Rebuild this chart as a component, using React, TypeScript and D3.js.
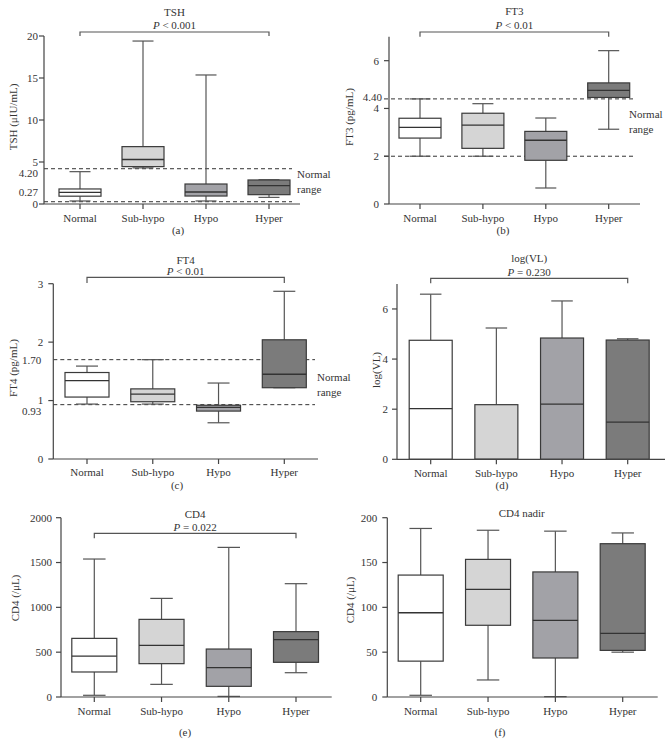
import React from "react";
import * as d3 from "d3";

const categories = ["Normal", "Sub-hypo", "Hypo", "Hyper"];
const fills = ["#ffffff", "#d5d5d5", "#a2a2a7", "#7b7b7b"];

// [min, q1, median, q3, max] per category
const tshStats = [
  [0.36, 0.93, 1.38, 1.79, 3.85],
  [4.3, 4.45, 5.3, 6.83, 19.4],
  [0.36, 0.95, 1.43, 2.38, 15.36],
  [0.79, 1.11, 2.18, 2.86, 2.88],
];
const ft3Stats = [
  [2.0, 2.76, 3.21, 3.59, 4.4],
  [2.0, 2.33, 3.3, 3.8, 4.2],
  [0.67, 1.83, 2.67, 3.04, 3.6],
  [3.13, 4.46, 4.76, 5.07, 6.42],
];
const ft4Stats = [
  [0.94, 1.06, 1.34, 1.48, 1.59],
  [0.94, 0.98, 1.11, 1.2, 1.7],
  [0.62, 0.82, 0.885, 0.92, 1.3],
  [1.22, 1.22, 1.45, 2.04, 2.87],
];
const vlStats = [
  [0, 0, 2.02, 4.75, 6.59],
  [0, 0, 0, 2.18, 5.24],
  [0, 0, 2.2, 4.84, 6.32],
  [0, 0, 1.48, 4.76, 4.81],
];
const cd4Stats = [
  [19, 279, 457, 654, 1539],
  [141, 372, 576, 866, 1100],
  [7, 119, 327, 535, 1669],
  [271, 387, 639, 729, 1264],
];
const cd4NadirStats = [
  [1.9, 40, 94, 136, 188],
  [19, 80, 120, 153.5, 186],
  [0.4, 43.5, 85.5, 139.5, 185],
  [50, 52, 71, 171, 183],
];

const tshTicks = [0, 5, 10, 15, 20];
const ft3Ticks = [0, 2, 4, 6];
const ft4Ticks = [0, 1, 2, 3];
const vlTicks = [0, 2, 4, 6];
const cd4Ticks = [0, 500, 1000, 1500, 2000];
const cd4NadirTicks = [0, 50, 100, 150, 200];

const tshRange = [0.27, 4.2];
const ft3Range = [2.0, 4.4];
const ft4Range = [0.93, 1.7];

type Panel = {
  stats: number[][];
  ticks: number[];
  max: number;
  y0: number;
  yMax: number;
  ax0: number;
  ax1: number;
  c0: number;
  c1: number;
  boxW: number;
  gap: number;
  title: string;
  pText?: string;
  titleY: number;
  pY?: number;
  bracketY?: number;
  bracketEnd?: number;
  yTitle: string;
  yTitleX: number;
  yTitleY: number;
  letter: string;
  letterX: number;
  letterY: number;
  catY: number;
  refLines?: number[];
  refLabels?: { v: number; text: string; dy: number; gap: number }[];
  refX0?: number;
  refX1?: number;
  rangeX?: number;
  rangeY?: number;
};

const FONT = "'Liberation Serif', 'DejaVu Serif', serif";
const TXT = "#333";
const AX = "#444";

function PText({ text, x, y }: { text: string; x: number; y: number }) {
  const rest = text.slice(1);
  return (
    <text x={x} y={y} textAnchor="middle" dy="0.35em" fontSize={11} fill={TXT}>
      <tspan fontStyle="italic">P</tspan>
      {rest}
    </text>
  );
}

function BoxPanel({ p }: { p: Panel }) {
  const y = d3.scaleLinear().domain([0, p.max]).range([p.y0, p.yMax]);
  const x = d3.scalePoint<string>().domain(categories).range([p.c0, p.c1]);
  const xs = categories.map((c) => x(c) as number);
  const midX = (xs[0] + xs[3]) / 2;
  const hw = p.boxW / 2;
  const cap = p.boxW / 4;
  return (
    <g fontFamily={FONT}>
      {p.refLines?.map((v, i) => (
        <line key={"r" + i} x1={p.refX0 ?? p.ax0} x2={p.refX1} y1={y(v)} y2={y(v)} stroke="#333" strokeWidth={1} strokeDasharray="4,3" />
      ))}
      {p.stats.map((s, i) => {
        const cx = xs[i];
        const [mn, q1, md, q3, mx] = s;
        return (
          <g key={i}>
            <line x1={cx} x2={cx} y1={y(mx)} y2={y(q3)} stroke="#555" strokeWidth={1.2} />
            <line x1={cx} x2={cx} y1={y(q1)} y2={y(mn)} stroke="#555" strokeWidth={1.2} />
            <line x1={cx - cap} x2={cx + cap} y1={y(mx)} y2={y(mx)} stroke="#555" strokeWidth={1.2} />
            <line x1={cx - cap} x2={cx + cap} y1={y(mn)} y2={y(mn)} stroke="#555" strokeWidth={1.2} />
            <rect x={cx - hw} y={y(q3)} width={p.boxW} height={Math.max(0.5, y(q1) - y(q3))} fill={fills[i]} stroke="#3a3a3a" strokeWidth={1.2} />
            <line x1={cx - hw} x2={cx + hw} y1={y(md)} y2={y(md)} stroke="#333" strokeWidth={1.3} />
          </g>
        );
      })}
      <line x1={p.ax0} x2={p.ax0} y1={p.y0} y2={p.yMax} stroke={AX} strokeWidth={1.2} />
      {p.ticks.map((t) => (
        <g key={"t" + t}>
          <line x1={p.ax0 - 5} x2={p.ax0} y1={y(t)} y2={y(t)} stroke={AX} strokeWidth={1.2} />
          <text x={p.ax0 - p.gap} y={y(t)} dy="0.35em" textAnchor="end" fontSize={11} fill={TXT}>
            {t}
          </text>
        </g>
      ))}
      {p.refLabels?.map((r, i) => (
        <text key={"rl" + i} x={p.ax0 - r.gap} y={y(r.v) + r.dy} dy="0.35em" textAnchor="end" fontSize={11} fill={TXT}>
          {r.text}
        </text>
      ))}
      <line x1={p.ax0} x2={p.ax1} y1={p.y0} y2={p.y0} stroke={AX} strokeWidth={1.2} />
      {categories.map((c, i) => (
        <g key={c}>
          <line x1={xs[i]} x2={xs[i]} y1={p.y0} y2={p.y0 + 5} stroke={AX} strokeWidth={1.2} />
          <text x={xs[i]} y={p.catY} dy="0.35em" textAnchor="middle" fontSize={11} fill={TXT}>
            {c}
          </text>
        </g>
      ))}
      <text x={midX} y={p.titleY} dy="0.35em" textAnchor="middle" fontSize={11} fill={TXT}>
        {p.title}
      </text>
      {p.pText && <PText text={p.pText} x={midX} y={p.pY as number} />}
      {p.bracketY !== undefined && (
        <path
          d={`M${xs[0]},${p.bracketEnd} V${p.bracketY} H${xs[3]} V${p.bracketEnd}`}
          fill="none"
          stroke="#555"
          strokeWidth={1.2}
        />
      )}
      <text
        transform={`translate(${p.yTitleX},${p.yTitleY}) rotate(-90)`}
        dy="0.35em"
        textAnchor="middle"
        fontSize={11}
        fill={TXT}
      >
        {p.yTitle}
      </text>
      {p.rangeX !== undefined && (
        <text x={p.rangeX} y={p.rangeY} fontSize={11} fill={TXT} dy="0.35em">
          <tspan x={p.rangeX}>Normal</tspan>
          <tspan x={p.rangeX} dy="15">range</tspan>
        </text>
      )}
      <text x={p.letterX} y={p.letterY} dy="0.35em" textAnchor="middle" fontSize={11} fill={TXT}>
        {p.letter}
      </text>
    </g>
  );
}

const panels: Panel[] = [
  {
    stats: tshStats, ticks: tshTicks, max: 20, y0: 204, yMax: 36, ax0: 44, ax1: 300, c0: 80, c1: 269, boxW: 42, gap: 6,
    title: "TSH", pText: "P < 0.001", titleY: 12, pY: 25, bracketY: 32, bracketEnd: 36,
    yTitle: "TSH (\u03bcIU/mL)", yTitleX: 13, yTitleY: 117, letter: "(a)", letterX: 178, letterY: 230, catY: 218,
    refLines: tshRange, refX1: 292,
    refLabels: [{ v: 4.2, text: "4.20", dy: 4.5, gap: 6 }, { v: 0.27, text: "0.27", dy: -10, gap: 6 }],
    rangeX: 297, rangeY: 174,
  },
  {
    stats: ft3Stats, ticks: ft3Ticks, max: 7, y0: 204, yMax: 36.8, ax0: 389, ax1: 640, c0: 420, c1: 608.7, boxW: 42, gap: 10,
    title: "FT3", pText: "P < 0.01", titleY: 11, pY: 25, bracketY: 32, bracketEnd: 36.8,
    yTitle: "FT3 (pg/mL)", yTitleX: 349, yTitleY: 117, letter: "(b)", letterX: 503, letterY: 230, catY: 218,
    refLines: ft3Range, refX0: 384, refX1: 633,
    refLabels: [{ v: 4.4, text: "4.40", dy: -1.5, gap: 7 }],
    rangeX: 629, rangeY: 114,
  },
  {
    stats: ft4Stats, ticks: ft4Ticks, max: 3, y0: 459, yMax: 283.7, ax0: 53.3, ax1: 318, c0: 87, c1: 284.3, boxW: 44, gap: 10,
    title: "FT4", pText: "P < 0.01", titleY: 260, pY: 271, bracketY: 277.3, bracketEnd: 283,
    yTitle: "FT4 (pg/mL)", yTitleX: 13, yTitleY: 368, letter: "(c)", letterX: 177, letterY: 485, catY: 472,
    refLines: ft4Range, refX1: 315,
    refLabels: [{ v: 1.7, text: "1.70", dy: 0, gap: 12 }, { v: 0.93, text: "0.93", dy: 6.5, gap: 12 }],
    rangeX: 317, rangeY: 377,
  },
  {
    stats: vlStats, ticks: vlTicks, max: 7, y0: 459.3, yMax: 283.9, ax0: 397, ax1: 665, c0: 430.7, c1: 627.7, boxW: 43, gap: 9,
    title: "log(VL)", pText: "P = 0.230", titleY: 258, pY: 271.7, bracketY: 278.3, bracketEnd: 283.3,
    yTitle: "log(VL)", yTitleX: 376, yTitleY: 370, letter: "(d)", letterX: 502, letterY: 485, catY: 473,
  },
  {
    stats: cd4Stats, ticks: cd4Ticks, max: 2000, y0: 697, yMax: 517.7, ax0: 61, ax1: 331.7, c0: 94.3, c1: 296, boxW: 45, gap: 9,
    title: "CD4", pText: "P = 0.022", titleY: 514, pY: 527.5, bracketY: 533.3, bracketEnd: 538.3,
    yTitle: "CD4 (/\u03bcL)", yTitleX: 15, yTitleY: 598, letter: "(e)", letterX: 185, letterY: 732, catY: 711,
  },
  {
    stats: cd4NadirStats, ticks: cd4NadirTicks, max: 200, y0: 697, yMax: 517.7, ax0: 387.3, ax1: 657.7, c0: 420.7, c1: 622.7, boxW: 45, gap: 10,
    title: "CD4 nadir", titleY: 513,
    yTitle: "CD4 (/\u03bcL)", yTitleX: 350, yTitleY: 600, letter: "(f)", letterX: 500, letterY: 732, catY: 711,
  },
];

export default function App() {
  return (
    <svg
      width={669}
      height={754}
      viewBox="0 0 669 754"
      style={{ position: "absolute", left: 0, top: 0, background: "#fff" }}
    >
      <rect width={669} height={754} fill="#fff" />
      {panels.map((p, i) => (
        <BoxPanel key={i} p={p} />
      ))}
    </svg>
  );
}
